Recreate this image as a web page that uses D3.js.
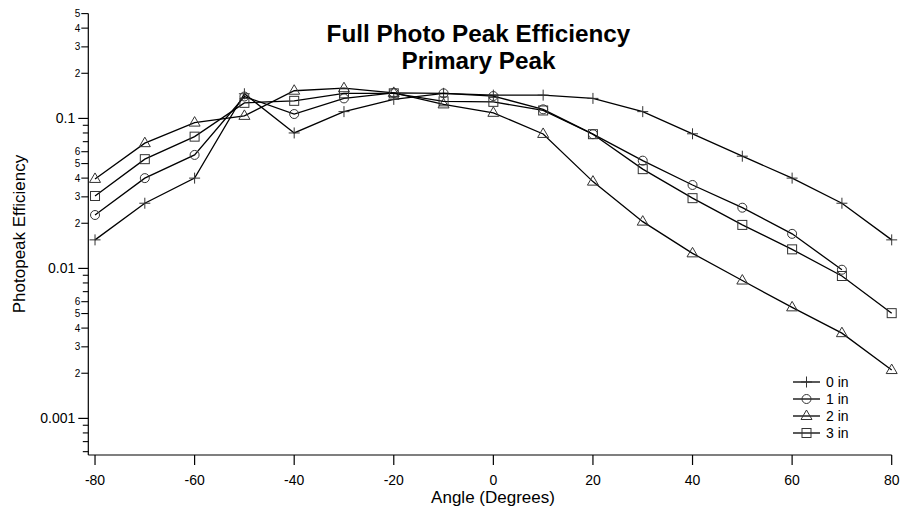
<!DOCTYPE html>
<html>
<head>
<meta charset="utf-8">
<script src="https://cdn.jsdelivr.net/npm/d3@7"></script>
<style>
  body { margin: 0; background: #fff; }
  svg { display: block; font-family: "Liberation Sans", Arial, sans-serif; }
</style>
</head>
<body>
<svg id="chart" width="902" height="509"></svg>
<script>
// ---- data ----
const angles = [-80, -70, -60, -50, -40, -30, -20, -10, 0, 10, 20, 30, 40, 50, 60, 70, 80];
const series0in = [0.0155, 0.0272, 0.0400, 0.146, 0.080, 0.111, 0.134, 0.147, 0.143, 0.143, 0.136, 0.111, 0.079, 0.056, 0.040, 0.0272, 0.0155];
const series1in = [0.0227, 0.0400, 0.0571, 0.140, 0.107, 0.136, 0.148, 0.147, 0.141, 0.115, 0.0785, 0.0523, 0.0360, 0.0254, 0.0170, 0.0098, null];
const series2in = [0.0395, 0.0684, 0.0938, 0.104, 0.153, 0.159, 0.148, 0.124, 0.109, 0.0788, 0.0379, 0.0205, 0.0126, 0.0083, 0.0055, 0.0037, 0.0021];
const series3in = [0.0304, 0.0535, 0.0756, 0.127, 0.131, 0.147, 0.147, 0.130, 0.129, 0.113, 0.0785, 0.0459, 0.0294, 0.0195, 0.0134, 0.0089, 0.00503];
const seriesNames = ["0 in", "1 in", "2 in", "3 in"];
const markerTypes = ["plus", "circle", "triangle", "square"];
const xTicks = [-80, -60, -40, -20, 0, 20, 40, 60, 80];
const yMajorTicks = [0.001, 0.01, 0.1];
const yMajorLabels = ["0.001", "0.01", "0.1"];
const yMinorLabels = [2, 3, 4, 5, 6];
const titleLines = ["Full Photo Peak Efficiency", "Primary Peak"];
const xTitle = "Angle (Degrees)";
const yTitle = "Photopeak Efficiency";

const allSeries = [series0in, series1in, series2in, series3in];

// ---- layout ----
const svg = d3.select("#chart");
const x = d3.scaleLinear().domain([-81.35, 80]).range([88.3, 891.7]);
const y = d3.scaleLog().domain([0.00057, 0.5]).range([455, 13.6]);
const [yLo, yHi] = y.domain();

// title
svg.append("g").selectAll("text").data(titleLines).join("text")
  .attr("x", 478.5)
  .attr("y", (d, i) => 42 + i * 27)
  .attr("text-anchor", "middle")
  .attr("font-size", 24.3)
  .attr("font-weight", "bold")
  .attr("fill", "#000")
  .text(d => d);

// axes lines
const axisG = svg.append("g").attr("stroke", "#000").attr("stroke-width", 1.2);
axisG.append("line").attr("x1", x.range()[0]).attr("x2", x.range()[0]).attr("y1", y.range()[0]).attr("y2", y.range()[1]);
axisG.append("line").attr("x1", x.range()[0]).attr("x2", x.range()[1]).attr("y1", y.range()[0]).attr("y2", y.range()[0]);

// x ticks
const xg = svg.append("g");
xg.selectAll("line").data(xTicks).join("line")
  .attr("x1", d => x(d)).attr("x2", d => x(d))
  .attr("y1", y.range()[0]).attr("y2", y.range()[0] + 10)
  .attr("stroke", "#000").attr("stroke-width", 1.2);
xg.selectAll("text").data(xTicks).join("text")
  .attr("x", d => x(d)).attr("y", 484.5)
  .attr("text-anchor", "middle").attr("font-size", 14).attr("fill", "#000")
  .text(d => d);

// y ticks
const minorVals = [];
for (let e = -4; e <= 0; e++) {
  for (let m = 2; m <= 9; m++) {
    const v = m * Math.pow(10, e);
    if (v >= yLo && v <= yHi) minorVals.push({ v, m });
  }
}
const isLabeled = d => yMinorLabels.includes(d.m) && d.v > yMajorTicks[0];
const yg = svg.append("g");
yg.selectAll("line.major").data(yMajorTicks).join("line").attr("class", "major")
  .attr("x1", x.range()[0] - 10).attr("x2", x.range()[0])
  .attr("y1", d => y(d)).attr("y2", d => y(d))
  .attr("stroke", "#000").attr("stroke-width", 1.2);
yg.selectAll("text.major").data(yMajorTicks).join("text").attr("class", "major")
  .attr("x", x.range()[0] - 13).attr("y", d => y(d)).attr("dy", "0.36em")
  .attr("text-anchor", "end").attr("font-size", 14).attr("fill", "#000")
  .text((d, i) => yMajorLabels[i]);
yg.selectAll("line.minor").data(minorVals).join("line").attr("class", "minor")
  .attr("x1", d => x.range()[0] - (isLabeled(d) ? 7 : 5.5)).attr("x2", x.range()[0])
  .attr("y1", d => y(d.v)).attr("y2", d => y(d.v))
  .attr("stroke", "#000").attr("stroke-width", 1.1);
yg.selectAll("text.minor").data(minorVals.filter(isLabeled)).join("text").attr("class", "minor")
  .attr("x", x.range()[0] - 8).attr("y", d => y(d.v)).attr("dy", "0.36em")
  .attr("text-anchor", "end").attr("font-size", 10).attr("fill", "#000")
  .text(d => d.m);

// axis titles
svg.append("text").attr("x", 493).attr("y", 503)
  .attr("text-anchor", "middle").attr("font-size", 17).attr("fill", "#000").text(xTitle);
svg.append("text").attr("transform", "translate(25,234) rotate(-90)")
  .attr("text-anchor", "middle").attr("font-size", 17).attr("fill", "#000").text(yTitle);

// markers
function drawMarker(g, type, cx, cy) {
  const s = g.append("g").attr("fill", "none").attr("stroke", "#333").attr("stroke-width", 1);
  if (type === "plus") {
    s.append("path").attr("d", `M${cx - 5.5},${cy}H${cx + 5.5}M${cx},${cy - 5.5}V${cy + 5.5}`);
  } else if (type === "circle") {
    s.append("circle").attr("cx", cx).attr("cy", cy).attr("r", 4.5);
  } else if (type === "triangle") {
    s.append("path").attr("d", `M${cx},${cy - 6}L${cx + 5.5},${cy + 3.5}L${cx - 5.5},${cy + 3.5}Z`);
  } else {
    s.append("rect").attr("x", cx - 4.5).attr("y", cy - 4.5).attr("width", 9).attr("height", 9);
  }
}

const line = d3.line()
  .defined(d => d.v != null)
  .x(d => x(d.a)).y(d => y(d.v));

allSeries.forEach((vals, si) => {
  const pts = angles.map((a, i) => ({ a, v: vals[i] })).filter(d => d.v != null);
  svg.append("path").datum(pts)
    .attr("d", line).attr("fill", "none").attr("stroke", "#000").attr("stroke-width", 1.3);
  const mg = svg.append("g");
  pts.forEach(d => drawMarker(mg, markerTypes[si], x(d.a), y(d.v)));
});

// legend
const lg = svg.append("g");
seriesNames.forEach((name, i) => {
  const ly = 382 + i * 17;
  lg.append("line").attr("x1", 793).attr("x2", 820).attr("y1", ly).attr("y2", ly)
    .attr("stroke", "#000").attr("stroke-width", 1.3);
  drawMarker(lg, markerTypes[i], 806.5, ly);
  lg.append("text").attr("x", 826).attr("y", ly).attr("dy", "0.36em")
    .attr("font-size", 14).attr("fill", "#000").text(name);
});
</script>
</body>
</html>
